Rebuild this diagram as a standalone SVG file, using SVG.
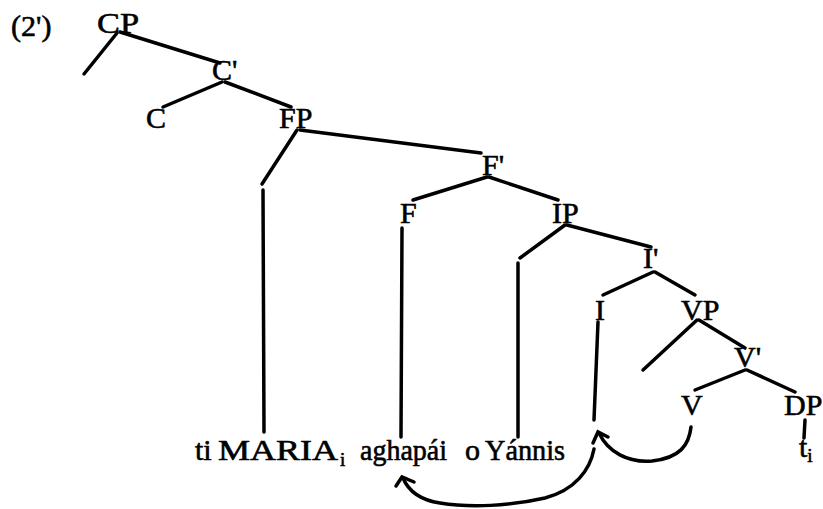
<svg xmlns="http://www.w3.org/2000/svg" width="823" height="509" viewBox="0 0 823 509">
<defs>
<style>
text{font-family:'Liberation Serif','DejaVu Serif',serif;font-size:30px;fill:#000;stroke:#000;stroke-width:0.6}
.sub{font-size:19px}
.e{stroke:#000;stroke-width:3.5;stroke-linecap:round;fill:none}
</style>
</defs>
<rect width="823" height="509" fill="#fff"/>
<g id="label"><text x="11" y="36">(2')</text></g>
<g id="connectors" class="e">
<path d="M117,33 L84,74"/>
<path d="M120,32 L220,63"/>
<path d="M222,82 L163,107"/>
<path d="M225,82 L291,107"/>
<path d="M297,130 L262,184"/>
<path d="M300,130 L481,153"/>
<path d="M263,190 L264,432"/>
<path d="M487,177 L413,200"/>
<path d="M489,177 L558,200"/>
<path d="M402,228 L401,437"/>
<path d="M565,225 L520,258"/>
<path d="M567,225 L651,247"/>
<path d="M518,263 L518,437"/>
<path d="M653,272 L603,295"/>
<path d="M655,272 L695,295"/>
<path d="M598,322 L594,420"/>
<path d="M697,320 L643,370"/>
<path d="M699,320 L745,348"/>
<path d="M745,370 L695,390"/>
<path d="M747,370 L795,392"/>
<path d="M805,420 L804,438"/>
<path d="M691,427 C689,445 680,458 652,461 C628,463 608,452 599,433"/>
<path d="M593,443 L598,432 L608,437"/>
<path d="M594,449 C590,470 575,490 545,498 C510,506 470,508 440,503 C420,500 408,490 403,478"/>
<path d="M396,486 L402,477 L414,482"/>
</g>
<g id="n-CP"><text x="97" y="33" textLength="42" lengthAdjust="spacingAndGlyphs">CP</text></g>
<g id="n-C1"><text x="212" y="80">C'</text></g>
<g id="n-C"><text x="146" y="128">C</text></g>
<g id="n-FP"><text x="279" y="128">FP</text></g>
<g id="n-F1"><text x="482" y="175">F'</text></g>
<g id="n-F"><text x="400" y="223">F</text></g>
<g id="n-IP"><text x="552" y="223">IP</text></g>
<g id="n-I1"><text x="643" y="268">I'</text></g>
<g id="n-I"><text x="595" y="320">I</text></g>
<g id="n-VP"><text x="681" y="320">VP</text></g>
<g id="n-V1"><text x="734" y="367">V'</text></g>
<g id="n-V"><text x="681" y="415">V</text></g>
<g id="n-DP"><text x="784" y="415">DP</text></g>
<g id="n-t"><text x="799" y="457">t<tspan class="sub" dy="5">i</tspan></text></g>
<g id="sentence">
<text x="195" y="460">ti</text>
<text x="218" y="460" textLength="120" lengthAdjust="spacingAndGlyphs">MARIA</text>
<text class="sub" x="340" y="466">i</text>
<text x="360" y="460" textLength="87" lengthAdjust="spacingAndGlyphs">aghapái</text>
<text x="465" y="460">o</text>
<text x="485" y="460" textLength="80" lengthAdjust="spacingAndGlyphs">Yánnis</text>
</g>
</svg>
